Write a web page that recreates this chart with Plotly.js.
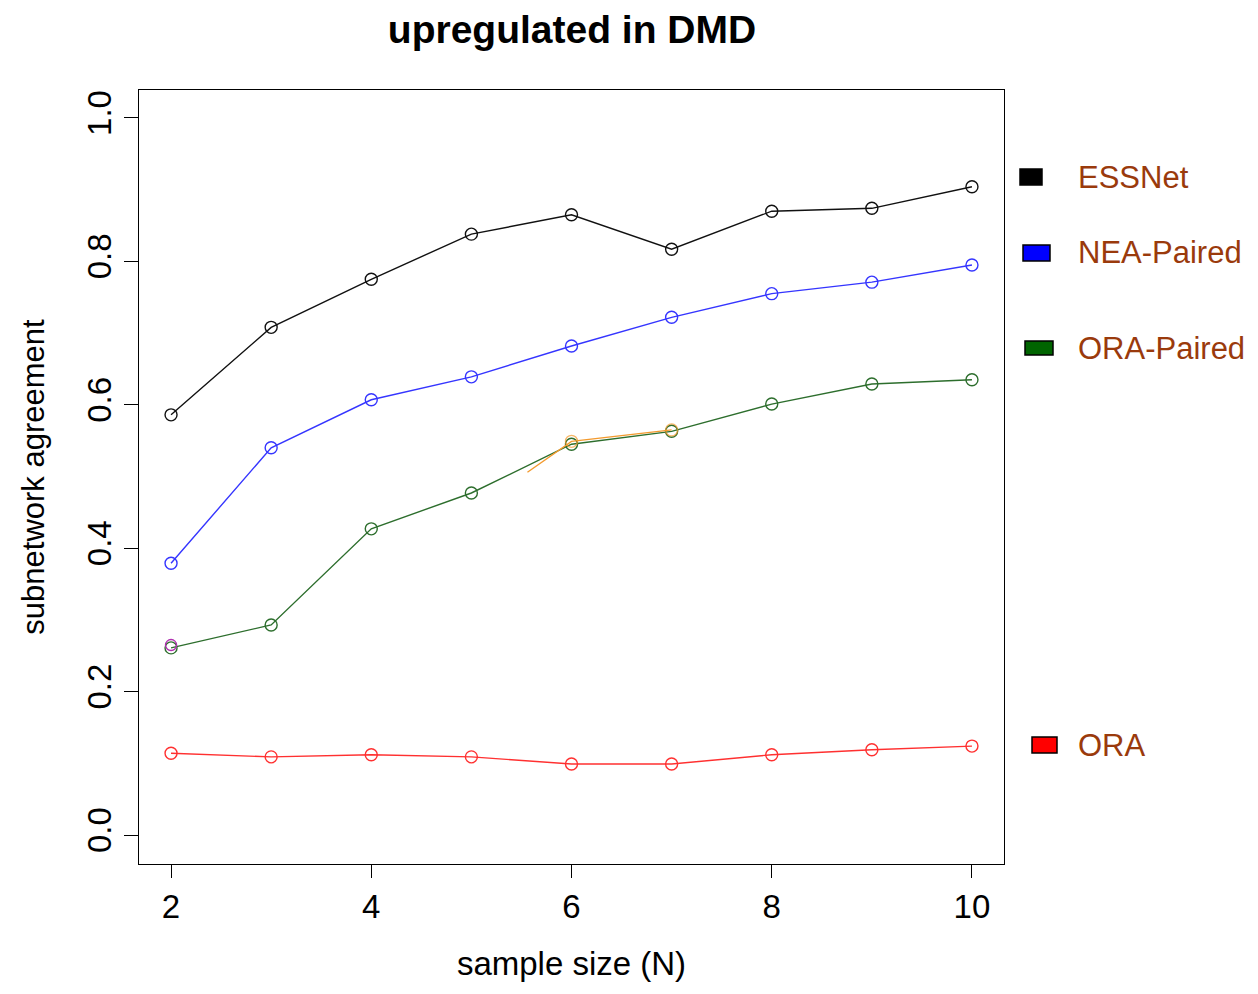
<!DOCTYPE html>
<html><head><meta charset="utf-8">
<script src="https://cdn.plot.ly/plotly-3.0.1.min.js"></script>
<style>body{margin:0;background:#fff}#chart{width:1258px;height:994px}</style>
</head><body><div id="chart"></div>
<script>
const sampleSize = [2, 3, 4, 5, 6, 7, 8, 9, 10];
const essnet     = [0.586, 0.708, 0.775, 0.838, 0.865, 0.817, 0.870, 0.874, 0.904];
const neaPaired  = [0.379, 0.540, 0.607, 0.639, 0.682, 0.722, 0.755, 0.771, 0.795];
const oraPaired  = [0.261, 0.293, 0.427, 0.477, 0.545, 0.563, 0.601, 0.629, 0.635];
const ora        = [0.114, 0.109, 0.112, 0.109, 0.099, 0.099, 0.112, 0.119, 0.124];
// leftover fragments visible in the picture
const orangeX = [5.56, 6, 7];
const orangeY = [0.506, 0.549, 0.565];
const purpleX = [2];
const purpleY = [0.265];
const tickVals = [2, 4, 6, 8, 10];
const yTickVals = [0, 0.2, 0.4, 0.6, 0.8, 1.0];
const yTickText = ['0.0', '0.2', '0.4', '0.6', '0.8', '1.0'];
const legendNames = ['ESSNet', 'NEA-Paired', 'ORA-Paired', 'ORA'];
const legendColors = ['#000000', '#0000ff', '#006400', '#ff0000'];

function series(y, color, name) {
  return {x: sampleSize, y: y, mode: 'lines+markers', name: name,
    line: {color: color, width: 1.4},
    marker: {symbol: 'circle-open', size: 12, color: color, line: {width: 1.4, color: color}}};
}
const traces = [
  series(essnet, '#111111', 'ESSNet'),
  series(neaPaired, '#3535ff', 'NEA-Paired'),
  series(oraPaired, '#2d6e2d', 'ORA-Paired'),
  series(ora, '#ff3030', 'ORA'),
  {x: orangeX, y: orangeY, mode: 'lines+markers', line: {color: '#f39a2e', width: 1.4},
   marker: {symbol: 'circle-open', size: [0, 12, 12], color: '#f39a2e', line: {width: 1.4, color: '#f39a2e'}}},
  {x: purpleX, y: purpleY, mode: 'markers',
   marker: {symbol: 'circle-open', size: 11, color: '#b030b0', line: {width: 1.4, color: '#b030b0'}}}
];

const font = 'Liberation Sans, Arial, sans-serif';
const W = 1258, H = 994, L = 139, R = 254, T = 90, B = 130;
const pw = W - L - R, ph = H - T - B;
const px = x => (x - L) / pw;
const py = y => (H - B - y) / ph;
const legRows = [177, 253, 348, 745];
const legBoxX = [[1020, 1042], [1023, 1050], [1025, 1053], [1032, 1057]];
const legBoxH = [16, 16, 14, 16];
const shapes = [], annotations = [];
legendNames.forEach((n, i) => {
  shapes.push({type: 'rect', xref: 'paper', yref: 'paper',
    x0: px(legBoxX[i][0]), x1: px(legBoxX[i][1]),
    y0: py(legRows[i] + legBoxH[i] / 2), y1: py(legRows[i] - legBoxH[i] / 2),
    fillcolor: legendColors[i], line: {color: '#000', width: 1.5}});
  annotations.push({xref: 'paper', yref: 'paper', x: px(1076), y: py(legRows[i]),
    xanchor: 'left', yanchor: 'middle', text: n, showarrow: false,
    font: {family: font, size: 31, color: '#9a3a0c'}});
});

const layout = {
  width: W, height: H,
  margin: {l: L, r: R, t: T, b: B},
  paper_bgcolor: '#fff', plot_bgcolor: '#fff',
  showlegend: false,
  title: {text: '<b>upregulated in DMD</b>', x: px(572), xref: 'paper', y: 1 - 29 / H, yanchor: 'middle',
    font: {family: font, size: 39, color: '#000'}},
  xaxis: {range: [1.68, 10.32], tickvals: tickVals, ticks: 'outside', ticklen: 13, tickwidth: 1,
    tickcolor: '#000', showline: true, mirror: true, linecolor: '#000', linewidth: 1.2,
    showgrid: false, zeroline: false,
    tickfont: {family: font, size: 33, color: '#000'},
    title: {text: 'sample size (N)', standoff: 28, font: {family: font, size: 33, color: '#000'}}},
  yaxis: {range: [-0.0404, 1.039], tickvals: yTickVals, ticktext: yTickText, ticks: 'outside',
    ticklen: 14, tickwidth: 1, tickcolor: '#000', tickangle: -90,
    showline: true, mirror: true, linecolor: '#000', linewidth: 1.2,
    showgrid: false, zeroline: false,
    tickfont: {family: font, size: 33, color: '#000'},
    title: {text: 'subnetwork agreement', standoff: 26, font: {family: font, size: 31, color: '#000'}}},
  shapes: shapes, annotations: annotations
};
Plotly.newPlot('chart', traces, layout, {displayModeBar: false, staticPlot: true});
</script></body></html>
